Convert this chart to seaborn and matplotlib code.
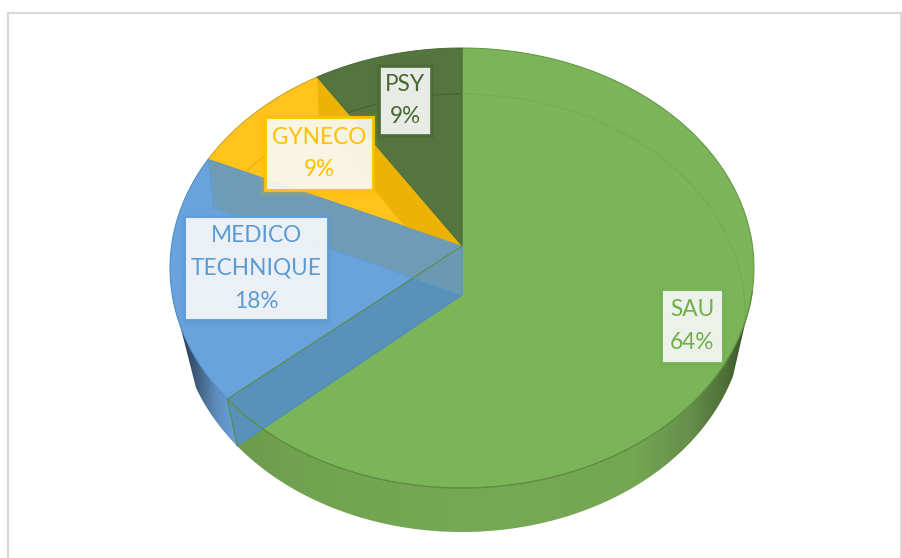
import numpy as np
import matplotlib
matplotlib.use("Agg")
import matplotlib.pyplot as plt
import seaborn as sns
from matplotlib.colors import LinearSegmentedColormap
from matplotlib.patches import Rectangle, Polygon

categories = ["SAU", "MEDICO\nTECHNIQUE", "GYNECO", "PSY"]
values = [63.6, 18.2, 9.1, 9.1]
percent_labels = ["64%", "18%", "9%", "9%"]
colors = ["#7CB45A", "#6AA3DC", "#FFC31B", "#54753F"]
text_colors = ["#70AD47", "#5B9BD5", "#FFC000", "#47682F"]

sns.set_theme(style="white")
plt.rcParams["font.family"] = ["Lato", "DejaVu Sans"]

fig = plt.figure(figsize=(9.03, 5.58), dpi=100, facecolor="white")
ax = fig.add_axes([0, 0, 1, 1])

wedges, _ = ax.pie(values, startangle=90, counterclock=False, colors=colors)
spans = [(w.theta1, w.theta2) for w in wedges]
for w in wedges:
    w.remove()
ax.set_aspect("auto")
ax.set_xlim(0, 903)
ax.set_ylim(558, 0)
ax.axis("off")

TOP = dict(cx=462, cy=268, rx=292, ry=220, a=0.10)
LOW = dict(cx=462, cy=313, rx=283, ry=219, a=0.082)


def project(theta_deg, s):
    t = np.radians(theta_deg)
    x, y = np.cos(t), np.sin(t)
    den = 1 + s["a"] * y
    xp = x * np.sqrt(1 - s["a"] ** 2) / den
    yp = (y + s["a"]) / den
    return s["cx"] + s["rx"] * xp, s["cy"] - s["ry"] * yp


def apex(s):
    return s["cx"], s["cy"] - s["ry"] * s["a"]


def ell_y(x, s):
    return s["cy"] + s["ry"] * np.sqrt(np.clip(1 - ((x - s["cx"]) / s["rx"]) ** 2, 0, 1))


def face(i):
    th = np.linspace(spans[i][0], spans[i][1], 160)
    px, py = project(th, TOP)
    ax0, ay0 = apex(TOP)
    return np.column_stack([np.r_[ax0, px], np.r_[ay0, py]])


def wall(theta):
    return np.array([apex(TOP), project(theta, TOP), project(theta, LOW), apex(LOW)])


def rim(x0, x1, xlow0, xlow1, stops, z):
    xt = np.linspace(x0, x1, 200)
    xb = np.linspace(xlow0, xlow1, 200)
    pts = np.r_[np.column_stack([xt, ell_y(xt, TOP)]),
                np.column_stack([xb, ell_y(xb, LOW)])[::-1]]
    poly = Polygon(pts, closed=True, transform=ax.transData, fc="none", ec="none")
    ax.add_patch(poly)
    cm = LinearSegmentedColormap.from_list("r", stops)
    im = ax.imshow(np.linspace(0, 1, 256)[None, :], cmap=cm, aspect="auto",
                   extent=(x0, x1, 558, 0), zorder=z)
    im.set_clip_path(poly)


frame = Rectangle((8, 13), 893, 560, fc="white", ec="#D9D9D9", lw=1.5, zorder=0)
ax.add_patch(frame)

boundary = spans[0][0]  # SAU / MEDICO edge
bx_low, _ = project(boundary, LOW)

# side of the disc
rim(bx_low - 6, 752, bx_low, 733,
    [(0, "#6D9A4E"), (0.15, "#72A351"), (0.5, "#76A955"), (0.78, "#74A653"),
     (0.88, "#668F4B"), (0.95, "#4E7038"), (1, "#33492A")], 1)
rim(172, bx_low, 196, bx_low, ["#1F3046", "#3A5674", "#5E8DBB", "#6AA3DC"], 1)

# top faces
for i, c in enumerate(colors):
    ec = ["#5E9440", "#4A8AC6", "#C9A028", "#4A6A38"][i]
    ax.add_patch(Polygon(face(i), closed=True, fc=c, ec=ec, lw=0.7, zorder=2))

# inner walls seen through the translucent disc
ax.add_patch(Polygon(wall(boundary), closed=True, fc="#5892BA", ec="#4A8AC6", lw=0.7, zorder=3))
ax.add_patch(Polygon(wall(spans[1][0]), closed=True, fc="#6F9BB0", ec="#5B9BD5", lw=0.6, alpha=0.85, zorder=3))
yw = Polygon(wall(spans[2][0]), closed=True, fc="#E6AE00", ec="none", alpha=0.75, zorder=3)
ax.add_patch(yw)
yw.set_clip_path(Polygon(face(2), closed=True, transform=ax.transData))

# green edge of the SAU wedge over the wall
ax.plot(*zip(apex(TOP), project(boundary, TOP), project(boundary, LOW)), color="#5E8F4A", lw=0.8, zorder=4)

# far rim of the lower ellipse, seen through each face
line_cols = ["#74AC52", "#6AA0D4", "#E8AE08", "#43602F"]
arc_x, arc_y = project(np.linspace(-10, 190, 500), LOW)
for i, c in enumerate(line_cols):
    ln, = ax.plot(arc_x, arc_y, color=c, lw=0.8, zorder=3)
    ln.set_clip_path(Polygon(face(i), closed=True, transform=ax.transData))

# front edge of the top face over the side
th = np.linspace(spans[0][0], spans[0][1], 300)
fx, fy = project(th, TOP)
ax.plot(fx[fy > 290], fy[fy > 290], color="#5E8F3F", lw=0.9, zorder=4)

# labels
boxes = [(662, 290, 60, 72), (185, 217, 143, 103), (265, 117, 108, 73), (379, 66, 52, 69)]
border_w = [0.6, 1.5, 2.2, 2.0]
for i, (x, y, w, h) in enumerate(boxes):
    for k in range(1, 7):
        ax.add_patch(Rectangle((x - k + 1, y - k + 3), w + 2 * k - 2, h + 2 * k - 2,
                               fc=text_colors[i], ec="none", alpha=0.05, zorder=5))
    ax.add_patch(Rectangle((x, y), w, h, fc="#FAFAFA", ec=text_colors[i], lw=border_w[i],
                           alpha=0.9, zorder=6))
    ax.text(x + w / 2, y + h / 2, f"{categories[i]}\n{percent_labels[i]}", color=text_colors[i],
            fontsize=16.3, ha="center", va="center", linespacing=1.68, zorder=7)

ax.set_xlim(0, 903)
ax.set_ylim(558, 0)
fig.savefig("out.png", dpi=100, facecolor="white")
